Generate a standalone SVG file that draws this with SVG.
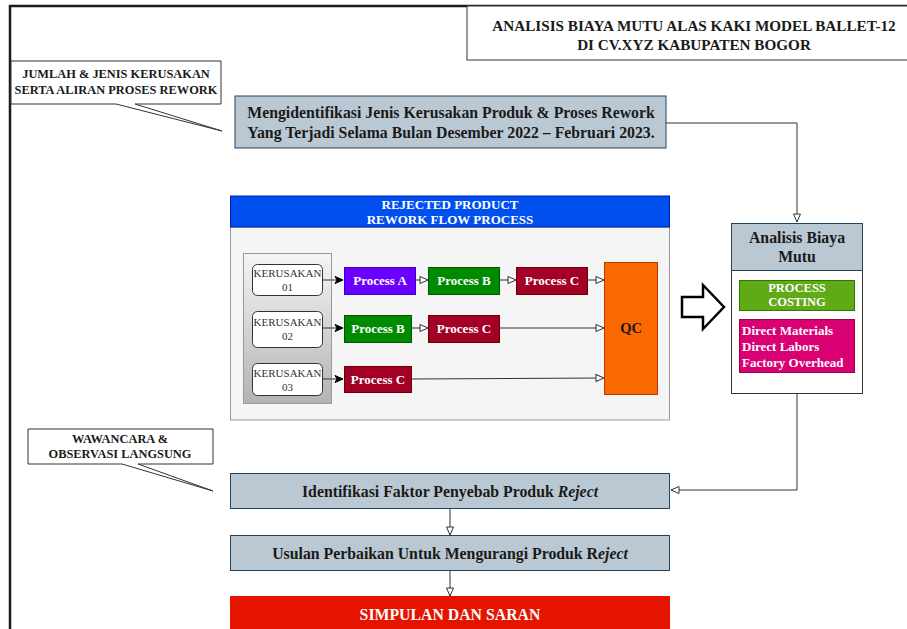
<svg xmlns="http://www.w3.org/2000/svg" width="907" height="629" viewBox="0 0 907 629">
<defs>
<linearGradient id="gg" x1="0" y1="0" x2="0" y2="1">
<stop offset="0" stop-color="#f5f5f5"/>
<stop offset="1" stop-color="#b3b3b3"/>
</linearGradient>
<marker id="open" markerWidth="10" markerHeight="10" refX="9" refY="5" orient="auto" markerUnits="userSpaceOnUse">
<path d="M1,1.5 L9,5 L1,8.5 Z" fill="#fff" stroke="#333" stroke-width="1"/>
</marker>
<marker id="solid" markerWidth="10" markerHeight="10" refX="9" refY="5" orient="auto" markerUnits="userSpaceOnUse">
<path d="M1,1.5 L9,5 L1,8.5 L3,5 Z" fill="#000" stroke="#000" stroke-width="1"/>
</marker>
</defs>
<style>
text{font-family:"Liberation Serif","Times New Roman",serif;font-weight:bold;text-anchor:middle}
.t15{font-size:15.2px;fill:#1a1a1a}
.t16{font-size:15.8px;fill:#1a1a1a}
.t13{font-size:13px;fill:#fff}
.t12w{font-size:12.5px;fill:#fff}
.t11{font-size:12.4px;fill:#1a1a1a}
.ker{font-size:11px;fill:#333;font-weight:normal}
.blue{fill:#bac8d3;stroke:#23445d;stroke-width:1}
.proc{stroke-width:1}
.conn{fill:none;stroke:#333;stroke-width:1}
.call{fill:#fff;stroke:#333;stroke-width:1}
</style>

<!-- frame -->
<path d="M10,629 L10,6 L907,6" fill="none" stroke="#1a1a1a" stroke-width="2.5"/>

<g id="title">
<rect x="467" y="6" width="455" height="54" fill="#fff" stroke="#333" stroke-width="1"/>
<text class="t15" x="694" y="31">ANALISIS BIAYA MUTU ALAS KAKI MODEL BALLET-12</text>
<text class="t15" x="694" y="50">DI CV.XYZ KABUPATEN BOGOR</text>
</g>

<g id="callout1">
<path class="call" d="M11,61 L221,61 L221,104 L135,104 L222,131 L116,104 L11,104 Z"/>
<text class="t11" x="116" y="78">JUMLAH &amp; JENIS KERUSAKAN</text>
<text class="t11" x="116" y="94">SERTA ALIRAN PROSES REWORK</text>
</g>

<g id="identify">
<rect class="blue" x="235" y="96" width="431" height="52"/>
<text class="t16" x="451" y="118">Mengidentifikasi Jenis Kerusakan Produk &amp; Proses Rework</text>
<text class="t16" x="451" y="138">Yang Terjadi Selama Bulan Desember 2022 – Februari 2023.</text>
</g>

<g id="rework">
<rect x="230.5" y="227" width="439" height="193" fill="#f5f5f5" stroke="#999" stroke-width="1"/>
<rect x="230.5" y="196" width="439" height="31" fill="#0050ef" stroke="#001dbc" stroke-width="1"/>
<text class="t13" x="450" y="209">REJECTED PRODUCT</text>
<text class="t13" x="450" y="224">REWORK FLOW PROCESS</text>
<rect x="243.5" y="253.5" width="88" height="150" fill="url(#gg)" stroke="#999" stroke-width="1"/>
</g>

<g id="k01">
<rect x="252.5" y="264.5" width="70" height="31" rx="5" fill="#fff" stroke="#333" stroke-width="1"/>
<text class="ker" x="287.5" y="277">KERUSAKAN</text>
<text class="ker" x="287.5" y="291">01</text>
</g>
<g id="k02">
<rect x="252.5" y="311.5" width="70" height="36" rx="5" fill="#fff" stroke="#333" stroke-width="1"/>
<text class="ker" x="287.5" y="326">KERUSAKAN</text>
<text class="ker" x="287.5" y="340">02</text>
</g>
<g id="k03">
<rect x="252.5" y="363.5" width="70" height="32" rx="5" fill="#fff" stroke="#333" stroke-width="1"/>
<text class="ker" x="287.5" y="377">KERUSAKAN</text>
<text class="ker" x="287.5" y="391">03</text>
</g>

<g id="p1a"><rect class="proc" x="344.5" y="267.5" width="71" height="27" fill="#6a00ff" stroke="#3700cc"/><text class="t13" x="380" y="285">Process A</text></g>
<g id="p1b"><rect class="proc" x="428.5" y="267.5" width="71" height="27" fill="#008a00" stroke="#005700"/><text class="t13" x="464" y="285">Process B</text></g>
<g id="p1c"><rect class="proc" x="516.5" y="267.5" width="71" height="27" fill="#a20025" stroke="#6f0000"/><text class="t13" x="552" y="285">Process C</text></g>
<g id="p2b"><rect class="proc" x="344.5" y="315.5" width="67" height="27" fill="#008a00" stroke="#005700"/><text class="t13" x="378" y="333">Process B</text></g>
<g id="p2c"><rect class="proc" x="428.5" y="315.5" width="71" height="27" fill="#a20025" stroke="#6f0000"/><text class="t13" x="464" y="333">Process C</text></g>
<g id="p3c"><rect class="proc" x="344.5" y="366.5" width="67" height="26" fill="#a20025" stroke="#6f0000"/><text class="t13" x="378" y="384">Process C</text></g>
<g id="qc"><rect x="604.5" y="262.5" width="53" height="132" fill="#fa6800" stroke="#c73500" stroke-width="1"/><text x="631" y="333" style="font-size:14.5px;fill:#1a1a1a">QC</text></g>

<g id="bigarrow">
<path d="M682,297 L703,297 L703,285 L724,307 L703,329 L703,317 L682,317 Z" fill="#fff" stroke="#000" stroke-width="2.5" stroke-linejoin="miter"/>
</g>

<g id="analisis">
<rect x="731.5" y="223.5" width="131" height="170" fill="#fff" stroke="#333" stroke-width="1"/>
<rect class="blue" x="731.5" y="223.5" width="131" height="47"/>
<text class="t16" x="797" y="243">Analisis Biaya</text>
<text class="t16" x="797" y="262">Mutu</text>
<rect x="739.5" y="280.5" width="115" height="30" fill="#60a917" stroke="#2d7600" stroke-width="1"/>
<text class="t12w" x="797" y="292">PROCESS</text>
<text class="t12w" x="797" y="306">COSTING</text>
<rect x="739.5" y="319.5" width="115" height="53" fill="#d80073" stroke="#a50040" stroke-width="1"/>
<text class="t13" x="742" y="335" style="text-anchor:start">Direct Materials</text>
<text class="t13" x="742" y="351" style="text-anchor:start">Direct Labors</text>
<text class="t13" x="742" y="367" style="text-anchor:start">Factory Overhead</text>
</g>

<g id="callout2">
<path class="call" d="M28,429 L213,429 L213,464 L138,464 L213,491 L122,464 L28,464 Z"/>
<text class="t11" x="120" y="443">WAWANCARA &amp;</text>
<text class="t11" x="120" y="458">OBSERVASI LANGSUNG</text>
</g>

<g id="faktor">
<rect class="blue" x="230.5" y="473.5" width="439" height="35"/>
<text class="t16" x="450" y="497">Identifikasi Faktor Penyebab Produk <tspan font-style="italic">Reject</tspan></text>
</g>
<g id="usulan">
<rect class="blue" x="230.5" y="535.5" width="439" height="35"/>
<text class="t16" x="450" y="559">Usulan Perbaikan Untuk Mengurangi Produk R<tspan font-style="italic">eject</tspan></text>
</g>
<g id="simpulan">
<rect x="230" y="596" width="440" height="40" fill="#e51400"/>
<text class="t16" x="450" y="620" style="fill:#fff">SIMPULAN DAN SARAN</text>
</g>

<g id="connectors">
<path class="conn" d="M666,123 L797,123 L797,222" marker-end="url(#open)"/>
<path class="conn" d="M322,280 L343,280" stroke="#000" marker-end="url(#solid)"/>
<path class="conn" d="M322,328 L343,328" stroke="#000" marker-end="url(#solid)"/>
<path class="conn" d="M322,379 L343,379" stroke="#000" marker-end="url(#solid)"/>
<path class="conn" d="M416,280 L428,280" marker-end="url(#open)"/>
<path class="conn" d="M500,280 L516,280" marker-end="url(#open)"/>
<path class="conn" d="M588,280 L604,280" marker-end="url(#open)"/>
<path class="conn" d="M412,328 L428,328" marker-end="url(#open)"/>
<path class="conn" d="M500,328 L604,328" marker-end="url(#open)"/>
<path class="conn" d="M412,379 L604,378" marker-end="url(#open)"/>
<path class="conn" d="M797,394 L797,490 L671,490" marker-end="url(#open)"/>
<path class="conn" d="M450,509 L450,535" marker-end="url(#open)"/>
<path class="conn" d="M450,571 L450,596" marker-end="url(#open)"/>
</g>
</svg>
